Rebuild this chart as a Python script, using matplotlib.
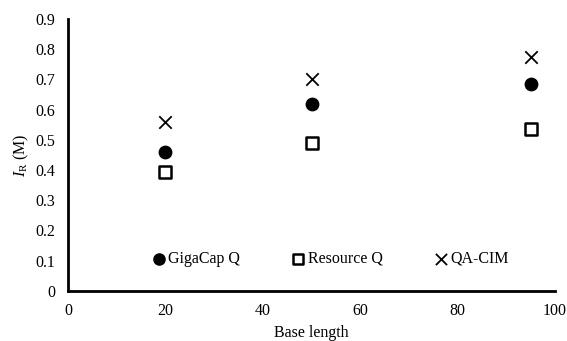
import matplotlib
matplotlib.use("Agg")
import matplotlib.pyplot as plt

base_length = [20, 50, 95]
gigacap_q = [0.46, 0.62, 0.685]
resource_q = [0.395, 0.49, 0.535]
qa_cim = [0.56, 0.70, 0.775]

plt.rcParams['font.family'] = ['Liberation Serif', 'DejaVu Serif']
plt.rcParams['mathtext.fontset'] = 'custom'
plt.rcParams['mathtext.rm'] = 'Liberation Serif'
plt.rcParams['mathtext.it'] = 'Liberation Serif:italic'

fig = plt.figure(figsize=(5.67, 3.41), dpi=100)
ax = fig.add_axes([0.12, 0.147, 0.859, 0.797])

ax.scatter(base_length, gigacap_q, marker='o', s=80, color='black', label='GigaCap Q', zorder=3)
ax.scatter(base_length, resource_q, marker='s', s=70, facecolors='white', edgecolors='black', linewidths=1.8, label='Resource Q', zorder=3)
ax.scatter(base_length, qa_cim, marker='x', s=80, color='black', linewidths=1.3, label='QA-CIM', zorder=3)

ax.set_xlim(0, 100)
ax.set_ylim(0, 0.9)
ax.set_xticks([0, 20, 40, 60, 80, 100])
ax.set_yticks([0, 0.1, 0.2, 0.3, 0.4, 0.5, 0.6, 0.7, 0.8, 0.9])
ax.set_yticklabels(['0', '0.1', '0.2', '0.3', '0.4', '0.5', '0.6', '0.7', '0.8', '0.9'])
ax.tick_params(length=0, labelsize=11.5)
ax.tick_params(axis='x', pad=9)
ax.tick_params(axis='y', pad=9)
for s in ['top', 'right']:
    ax.spines[s].set_visible(False)
for s in ['left', 'bottom']:
    ax.spines[s].set_linewidth(2)

ax.set_xlabel('Base length', fontsize=11.5, labelpad=4)
ax.set_ylabel(r'$I_{\mathrm{R}}$ (M)', fontsize=11.5, labelpad=3)

leg = ax.legend(loc='lower center', bbox_to_anchor=(0.54, 0.035), ncol=3, frameon=False,
                fontsize=11.5, handlelength=0.7, handletextpad=0.25, columnspacing=3.3, markerscale=0.9)

fig.savefig('out.png', dpi=100)
